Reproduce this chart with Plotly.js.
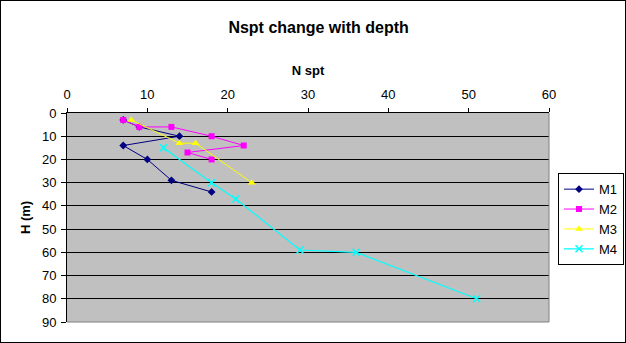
<!DOCTYPE html>
<html>
<head>
<meta charset="utf-8">
<script src="https://cdn.plot.ly/plotly-3.0.1.min.js"></script>
<style>
html,body{margin:0;padding:0;background:#fff;}
#chart{width:624px;height:341px;border:1px solid #000;overflow:hidden;}
</style>
</head>
<body>
<div id="chart"></div>
<script>
// Data
var seriesNames = ["M1", "M2", "M3", "M4"];
var m1N = [7, 9, 14, 7, 10, 13, 18];
var m1H = [3, 6, 10, 14, 20, 29, 34];
var m2N = [7, 9, 13, 18, 22, 15, 18];
var m2H = [3, 6, 6, 10, 14, 17, 20];
var m3N = [8, 14, 16, 23];
var m3H = [3, 13, 13, 30];
var m4N = [12, 18, 21, 29, 36, 51];
var m4H = [15, 30, 37, 59, 60, 80];
var xTicks = [0, 10, 20, 30, 40, 50, 60];
var yTicks = [0, 10, 20, 30, 40, 50, 60, 70, 80, 90];

var FONT = "Arial, 'Liberation Sans', sans-serif";

var traces = [
  {x: m1N, y: m1H, name: seriesNames[0], mode: "lines+markers",
   line: {color: "#000080", width: 1},
   marker: {symbol: "diamond", size: 6, color: "#000080"}},
  {x: m2N, y: m2H, name: seriesNames[1], mode: "lines+markers",
   line: {color: "#ff00ff", width: 1},
   marker: {symbol: "square", size: 6, color: "#ff00ff"}},
  {x: m3N, y: m3H, name: seriesNames[2], mode: "lines+markers",
   line: {color: "#ffff00", width: 1},
   marker: {symbol: "triangle-up", size: 7, color: "#ffff00"}},
  {x: m4N, y: m4H, name: seriesNames[3], mode: "lines+markers",
   line: {color: "#00ffff", width: 1.2},
   marker: {symbol: "x-thin", size: 7, color: "#00ffff", line: {color: "#00ffff", width: 1.5}}}
];

var layout = {
  width: 624, height: 341,
  margin: {l: 66, r: 76, t: 112, b: 20, pad: 0, autoexpand: false},
  paper_bgcolor: "#ffffff",
  plot_bgcolor: "#c0c0c0",
  font: {family: FONT, size: 13, color: "#000"},
  title: {text: "<b>Nspt change with depth</b>", font: {family: FONT, size: 16, color: "#000"},
          x: 0.509, xref: "container", y: 0.924, yref: "container", yanchor: "middle", xanchor: "center"},
  xaxis: {
    side: "top", range: [0, 60], tickvals: xTicks, ticktext: xTicks.map(String),
    showgrid: false, zeroline: false, showline: true, linecolor: "#000", linewidth: 1,
    ticks: "outside", ticklen: 4, tickcolor: "#000", tickfont: {family: FONT, size: 13},
    ticklabelstandoff: 4,
    title: {text: "<b>N spt</b>", font: {family: FONT, size: 13}, standoff: 8},
    fixedrange: true
  },
  yaxis: {
    range: [90, 0], tickvals: yTicks, ticktext: yTicks.map(String),
    showgrid: true, gridcolor: "#000", gridwidth: 1,
    zeroline: false, showline: true, linecolor: "#000", linewidth: 1,
    ticks: "outside", ticklen: 5, tickcolor: "#000", tickfont: {family: FONT, size: 13},
    ticklabelstandoff: 2,
    title: {text: "<b>H (m)</b>", font: {family: FONT, size: 13}, standoff: 8},
    fixedrange: true
  },
  shapes: [
    {type: "line", xref: "paper", yref: "paper", x0: 1, x1: 1, y0: 0, y1: 1, line: {color: "#808080", width: 1}},
    {type: "line", xref: "paper", yref: "paper", x0: 0, x1: 1, y0: 0, y1: 0, line: {color: "#808080", width: 1}}
  ],
  showlegend: true,
  legend: {
    x: 1.0187, xanchor: "left", y: 0.712, yanchor: "top",
    bgcolor: "#ffffff", bordercolor: "#000", borderwidth: 1,
    font: {family: FONT, size: 13, color: "#000"},
    itemwidth: 30, tracegroupgap: 0
  }
};

Plotly.newPlot("chart", traces, layout, {displayModeBar: false, staticPlot: true});
</script>
</body>
</html>
